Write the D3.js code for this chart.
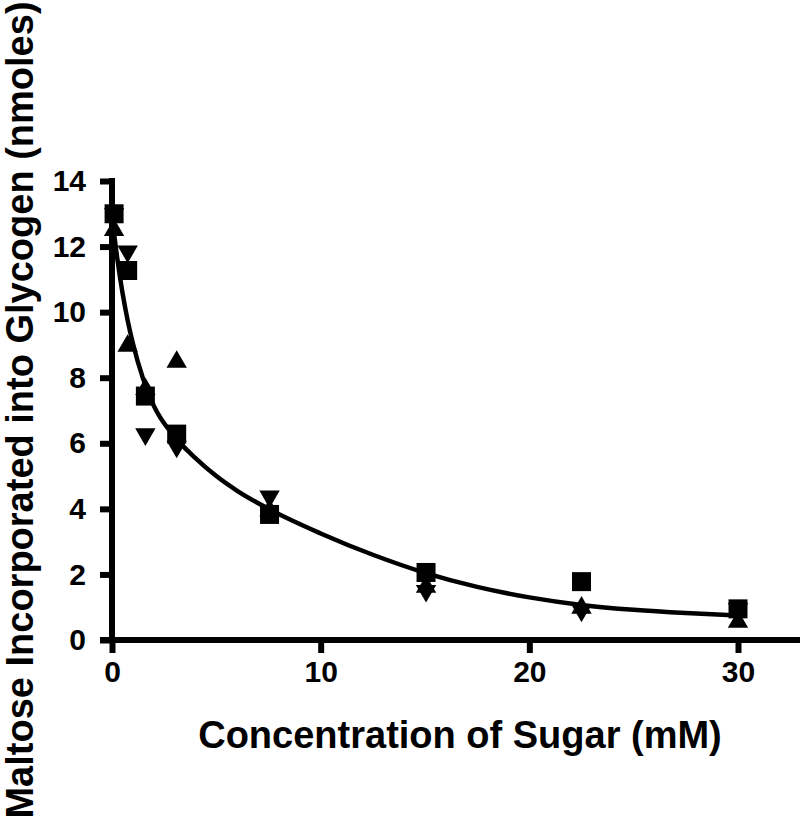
<!DOCTYPE html>
<html>
<head>
<meta charset="utf-8">
<script src="https://cdn.jsdelivr.net/npm/d3@7/dist/d3.min.js"></script>
<style>
  html, body { margin: 0; padding: 0; background: #fff; }
  svg { display: block; font-family: "Liberation Sans", Arial, sans-serif; font-weight: bold; }
</style>
</head>
<body>
<svg id="chart" width="800" height="819"></svg>
<script>
// ---- data ----
const xTicks = [0, 10, 20, 30];
const yTicks = [0, 2, 4, 6, 8, 10, 12, 14];

const squareX = [0.1, 0.75, 1.6, 3.1, 7.55, 15.05, 22.5, 30];
const squareY = [13.0, 11.27, 7.44, 6.28, 3.83, 2.06, 1.78, 0.95];

const triUpX = [0.1, 0.75, 1.6, 3.1, 7.55, 15.05, 22.5, 30];
const triUpY = [12.5, 8.97, 7.65, 8.48, 3.95, 1.62, 0.98, 0.55];

const triDownX = [0.1, 0.75, 1.6, 3.1, 7.55, 15.05, 22.5, 30];
const triDownY = [13.0, 11.85, 6.28, 5.9, 4.38, 1.5, 0.9, 0.95];

const fitX = [0, 0.25, 0.5, 0.75, 1.0, 1.5, 2, 3, 4, 5, 6, 7.5, 10, 12.5, 15, 17.5, 20, 22.5, 25, 27.5, 30];
const fitY = [12.9, 11.65, 10.6, 9.75, 9.05, 7.95, 7.15, 6.2, 5.55, 5.0, 4.55, 4.0, 3.25, 2.6, 2.05, 1.62, 1.3, 1.07, 0.92, 0.82, 0.75];

const xTitle = "Concentration of Sugar (mM)";
const yTitle = "Maltose Incorporated into Glycogen (nmoles)";

// ---- drawing ----
const svg = d3.select("#chart");
const x = d3.scaleLinear().domain([0, 30]).range([112, 738]);
const y = d3.scaleLinear().domain([0, 14]).range([640, 181]);

const AX = 6; // axis stroke thickness

// fitted curve
const line = d3.line()
  .x(d => x(d[0])).y(d => y(d[1]))
  .curve(d3.curveMonotoneX);
svg.append("path")
  .datum(fitX.map((v, i) => [v, fitY[i]]))
  .attr("d", line)
  .attr("fill", "none")
  .attr("stroke", "#000")
  .attr("stroke-width", 4.5);

// markers
const sq = d3.symbol().type(d3.symbolSquare).size(19 * 19);
const tri = d3.symbol().type(d3.symbolTriangle).size(180);

function drawSeries(xs, ys, gen, rot) {
  svg.append("g").selectAll("path")
    .data(xs.map((v, i) => [v, ys[i]]))
    .join("path")
    .attr("d", gen)
    .attr("fill", "#000")
    .attr("transform", d => `translate(${x(d[0])},${y(d[1])}) rotate(${rot})`);
}
drawSeries(triDownX, triDownY, tri, 180);
drawSeries(triUpX, triUpY, tri, 0);
drawSeries(squareX, squareY, sq, 0);

// y axis
const yAxis = d3.axisLeft(y).tickValues(yTicks).tickSize(12).tickPadding(14).tickSizeOuter(0);
const gy = svg.append("g").attr("transform", `translate(${x(0)},0)`).call(yAxis);
gy.select(".domain").remove();
gy.selectAll(".tick line").attr("stroke", "#000").attr("stroke-width", AX);
gy.selectAll(".tick text")
  .attr("font-size", 30).attr("font-weight", "bold")
  .attr("font-family", "'Liberation Sans', Arial, sans-serif")
  .attr("fill", "#000");
svg.append("line")
  .attr("x1", x(0)).attr("x2", x(0))
  .attr("y1", y(14) - AX / 2).attr("y2", y(0) + AX / 2)
  .attr("stroke", "#000").attr("stroke-width", AX);

// x axis
const xAxis = d3.axisBottom(x).tickValues(xTicks).tickSize(13).tickPadding(8).tickSizeOuter(0);
const gx = svg.append("g").attr("transform", `translate(0,${y(0)})`).call(xAxis);
gx.select(".domain").remove();
gx.selectAll(".tick line").attr("stroke", "#000").attr("stroke-width", AX);
gx.selectAll(".tick text")
  .attr("font-size", 30).attr("font-weight", "bold")
  .attr("font-family", "'Liberation Sans', Arial, sans-serif")
  .attr("fill", "#000");
svg.append("line")
  .attr("x1", x(0) - 12).attr("x2", 800)
  .attr("y1", y(0)).attr("y2", y(0))
  .attr("stroke", "#000").attr("stroke-width", AX);

// titles
svg.append("text")
  .attr("x", 460).attr("y", 748)
  .attr("text-anchor", "middle")
  .attr("font-size", 38).attr("font-weight", "bold")
  .attr("fill", "#000")
  .text(xTitle);

svg.append("text")
  .attr("transform", "translate(33,410) rotate(-90)")
  .attr("text-anchor", "middle")
  .attr("font-size", 38).attr("font-weight", "bold")
  .attr("fill", "#000")
  .text(yTitle);
</script>
</body>
</html>
